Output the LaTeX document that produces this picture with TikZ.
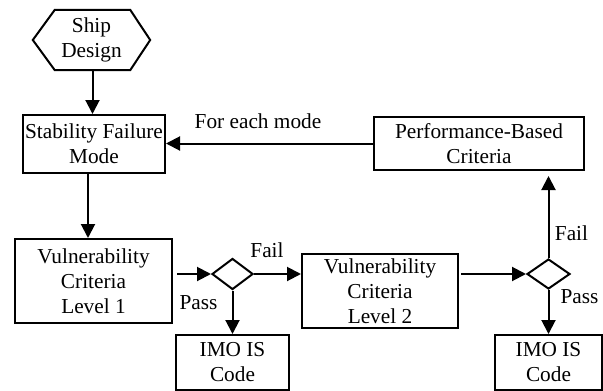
\documentclass[tikz,border=0pt]{standalone}
\usepackage{fontspec}
\setmainfont{Liberation Serif}
\usetikzlibrary{arrows.meta,shapes.geometric}
\begin{document}
\begin{tikzpicture}[x=1pt,y=-1pt,
  txt/.style={font=\fontsize{21.3}{25}\selectfont, align=center, inner sep=0pt},
  box/.style={txt, draw, line width=2pt},
  dia/.style={draw, diamond, line width=2pt, inner sep=0pt},
  arr/.style={line width=2pt, -{Triangle[length=14pt,width=14pt]}}]
\useasboundingbox (0,0) rectangle (603,391);
% nodes
\node[txt, minimum width=117pt, minimum height=60pt] (ship) at (91.5,40) {Ship\\Design};
\draw[line width=2pt, line join=miter] (ship.west) -- ([xshift=22pt]ship.north west) -- ([xshift=-20pt]ship.north east) -- (ship.east) -- ([xshift=-20pt]ship.south east) -- ([xshift=22pt]ship.south west) -- cycle;
\node[box, minimum width=142pt, minimum height=58pt] (stab) at (94,144) {Stability Failure\\Mode};
\node[box, minimum width=210pt, minimum height=53pt] (perf) at (479,143.5) {Performance-Based\\Criteria};
\node[box, minimum width=157pt, minimum height=84pt] (v1) at (93.5,281) {Vulnerability\\Criteria\\Level 1};
\node[dia, minimum width=41pt, minimum height=31pt] (d1) at (232.5,274) {};
\node[box, minimum width=113pt, minimum height=55pt] (imo1) at (232.5,362.5) {IMO IS\\Code};
\node[box, minimum width=156pt, minimum height=74pt] (v2) at (380,291) {Vulnerability\\Criteria\\Level 2};
\node[dia, minimum width=43pt, minimum height=30pt] (d2) at (548.5,274) {};
\node[box, minimum width=107pt, minimum height=55pt] (imo2) at (548.5,362.5) {IMO IS\\Code};
% labels
\node[txt] (lmode) at (258,121) {For each mode};
\node[txt] (lfail1) at (267,250) {Fail};
\node[txt] (lpass1) at (198.5,303) {Pass};
\node[txt] (lfail2) at (571.5,233) {Fail};
\node[txt] (lpass2) at (579.5,297) {Pass};
% connectors
\draw[arr] ([xshift=1pt]ship.south) -- ([xshift=1pt]ship.south |- stab.north);
\draw[arr] ([xshift=-6pt]stab.south) -- ([xshift=-6pt]stab.south |- v1.north);
\draw[arr] (perf.west) -- (perf.west -| stab.east);
\draw[arr] ([xshift=4pt]v1.east |- d1.west) -- (d1.west);
\draw[arr] (d1.east) -- (d1.east -| v2.west);
\draw[arr] (d1.south) -- (d1.south |- imo1.north);
\draw[arr] ([xshift=2pt]v2.east |- d2.west) -- (d2.west);
\draw[arr] (d2.north) -- ([yshift=-5pt]d2.north |- perf.south);
\draw[arr] (d2.south) -- (d2.south |- imo2.north);
\end{tikzpicture}
\end{document}
